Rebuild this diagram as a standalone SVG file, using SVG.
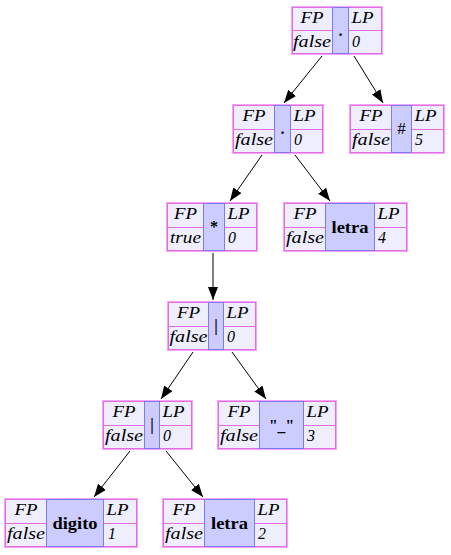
<svg xmlns="http://www.w3.org/2000/svg" width="451" height="555" viewBox="0 0 451 555">
  <defs>
    <marker id="arrow" markerUnits="userSpaceOnUse" markerWidth="14" markerHeight="11" refX="13" refY="5" orient="auto">
      <path d="M0,0 L13,5 L0,10 z" fill="#000"/>
    </marker>
  </defs>
  <style>
    .outer { fill: none; stroke: #f7a3f7; stroke-width: 1; }
    .cell { fill: #eeeeff; stroke: #e36be3; stroke-width: 1; }
    .key { fill: #ccccff; stroke: #7b7bf5; stroke-width: 1; }
    .it { font-family: "Liberation Serif", "Times New Roman", serif; font-style: italic; font-size: 16px; fill: #000; }
    .c { text-anchor: middle; }
    .lb { font-family: "Liberation Serif", "Times New Roman", serif; font-weight: bold; font-size: 16px; fill: #000; text-anchor: middle; }
    .sym { font-family: "Liberation Serif", "Times New Roman", serif; font-size: 17px; fill: #000; text-anchor: middle; }
    .edge { stroke: #000; stroke-width: 1; fill: none; marker-end: url(#arrow); }
  </style>
  <rect width="451" height="555" fill="#fff"/>

  <!-- connectors -->
  <g id="edges">
    <line class="edge" x1="322" y1="56" x2="284" y2="103"/>
    <line class="edge" x1="354" y1="56" x2="383" y2="103"/>
    <line class="edge" x1="262" y1="155" x2="230" y2="201"/>
    <line class="edge" x1="295" y1="155" x2="330" y2="201"/>
    <line class="edge" x1="213" y1="253" x2="213" y2="300"/>
    <line class="edge" x1="193" y1="352" x2="161" y2="399"/>
    <line class="edge" x1="232" y1="352" x2="266" y2="399"/>
    <line class="edge" x1="130" y1="451" x2="94" y2="497"/>
    <line class="edge" x1="166" y1="451" x2="203" y2="497"/>
  </g>

  <!-- root: concatenation -->
  <g id="node-A">
    <rect class="outer" x="291.5" y="6.5" width="91" height="48"/>
    <rect class="cell" x="292.5" y="7.5" width="40" height="23"/>
    <rect class="cell" x="292.5" y="30.5" width="40" height="23"/>
    <rect class="cell" x="348.5" y="7.5" width="33" height="23"/>
    <rect class="cell" x="348.5" y="30.5" width="33" height="23"/>
    <rect class="key" x="332.5" y="7.5" width="16" height="46"/>
    <text class="it c" x="312" y="22.5" textLength="23" lengthAdjust="spacingAndGlyphs">FP</text>
    <text class="it c" x="312" y="46.5" textLength="38" lengthAdjust="spacingAndGlyphs">false</text>
    <text class="lb" x="340.5" y="35.5">.</text>
    <text class="it" x="351.5" y="22.5" textLength="22" lengthAdjust="spacingAndGlyphs">LP</text>
    <text class="it" x="352" y="46.5">0</text>
  </g>

  <g id="node-B">
    <rect class="outer" x="232.5" y="104.5" width="91" height="49"/>
    <rect class="cell" x="233.5" y="105.5" width="41" height="24"/>
    <rect class="cell" x="233.5" y="129.5" width="41" height="23"/>
    <rect class="cell" x="290.5" y="105.5" width="32" height="24"/>
    <rect class="cell" x="290.5" y="129.5" width="32" height="23"/>
    <rect class="key" x="274.5" y="105.5" width="16" height="47"/>
    <text class="it c" x="254" y="121" textLength="23" lengthAdjust="spacingAndGlyphs">FP</text>
    <text class="it c" x="254" y="145" textLength="38" lengthAdjust="spacingAndGlyphs">false</text>
    <text class="lb" x="282.5" y="134">.</text>
    <text class="it" x="293.5" y="121" textLength="22" lengthAdjust="spacingAndGlyphs">LP</text>
    <text class="it" x="294" y="145">0</text>
  </g>

  <g id="node-C">
    <rect class="outer" x="349.5" y="104.5" width="95" height="49"/>
    <rect class="cell" x="350.5" y="105.5" width="41" height="24"/>
    <rect class="cell" x="350.5" y="129.5" width="41" height="23"/>
    <rect class="cell" x="411.5" y="105.5" width="32" height="24"/>
    <rect class="cell" x="411.5" y="129.5" width="32" height="23"/>
    <rect class="key" x="391.5" y="105.5" width="20" height="47"/>
    <text class="it c" x="371" y="121" textLength="23" lengthAdjust="spacingAndGlyphs">FP</text>
    <text class="it c" x="371" y="145" textLength="38" lengthAdjust="spacingAndGlyphs">false</text>
    <text class="sym" x="401.5" y="134">#</text>
    <text class="it" x="414.5" y="121" textLength="22" lengthAdjust="spacingAndGlyphs">LP</text>
    <text class="it" x="415" y="145">5</text>
  </g>

  <g id="node-D">
    <rect class="outer" x="166.5" y="202.5" width="91" height="49"/>
    <rect class="cell" x="167.5" y="203.5" width="36" height="24"/>
    <rect class="cell" x="167.5" y="227.5" width="36" height="23"/>
    <rect class="cell" x="224.5" y="203.5" width="32" height="24"/>
    <rect class="cell" x="224.5" y="227.5" width="32" height="23"/>
    <rect class="key" x="203.5" y="203.5" width="21" height="47"/>
    <text class="it c" x="185.5" y="219" textLength="23" lengthAdjust="spacingAndGlyphs">FP</text>
    <text class="it c" x="185.5" y="243" textLength="31" lengthAdjust="spacingAndGlyphs">true</text>
    <text class="lb" x="214" y="232">*</text>
    <text class="it" x="227.5" y="219" textLength="22" lengthAdjust="spacingAndGlyphs">LP</text>
    <text class="it" x="228" y="243">0</text>
  </g>

  <g id="node-E">
    <rect class="outer" x="283.5" y="202.5" width="124" height="49"/>
    <rect class="cell" x="284.5" y="203.5" width="41" height="24"/>
    <rect class="cell" x="284.5" y="227.5" width="41" height="23"/>
    <rect class="cell" x="374.5" y="203.5" width="32" height="24"/>
    <rect class="cell" x="374.5" y="227.5" width="32" height="23"/>
    <rect class="key" x="325.5" y="203.5" width="49" height="47"/>
    <text class="it c" x="305" y="219" textLength="23" lengthAdjust="spacingAndGlyphs">FP</text>
    <text class="it c" x="305" y="243" textLength="38" lengthAdjust="spacingAndGlyphs">false</text>
    <text class="lb" x="350" y="233" textLength="37" lengthAdjust="spacingAndGlyphs">letra</text>
    <text class="it" x="377.5" y="219" textLength="22" lengthAdjust="spacingAndGlyphs">LP</text>
    <text class="it" x="378" y="243">4</text>
  </g>

  <g id="node-F">
    <rect class="outer" x="167.5" y="301.5" width="89" height="49"/>
    <rect class="cell" x="168.5" y="302.5" width="40" height="24"/>
    <rect class="cell" x="168.5" y="326.5" width="40" height="23"/>
    <rect class="cell" x="223.5" y="302.5" width="32" height="24"/>
    <rect class="cell" x="223.5" y="326.5" width="32" height="23"/>
    <rect class="key" x="208.5" y="302.5" width="15" height="47"/>
    <text class="it c" x="188.5" y="318" textLength="23" lengthAdjust="spacingAndGlyphs">FP</text>
    <text class="it c" x="188.5" y="342" textLength="38" lengthAdjust="spacingAndGlyphs">false</text>
    <text class="lb" x="216" y="331">|</text>
    <text class="it" x="226.5" y="318" textLength="22" lengthAdjust="spacingAndGlyphs">LP</text>
    <text class="it" x="227" y="342">0</text>
  </g>

  <g id="node-G">
    <rect class="outer" x="102.5" y="400.5" width="90" height="49"/>
    <rect class="cell" x="103.5" y="401.5" width="41" height="24"/>
    <rect class="cell" x="103.5" y="425.5" width="41" height="23"/>
    <rect class="cell" x="159.5" y="401.5" width="32" height="24"/>
    <rect class="cell" x="159.5" y="425.5" width="32" height="23"/>
    <rect class="key" x="144.5" y="401.5" width="15" height="47"/>
    <text class="it c" x="124" y="417" textLength="23" lengthAdjust="spacingAndGlyphs">FP</text>
    <text class="it c" x="124" y="441" textLength="38" lengthAdjust="spacingAndGlyphs">false</text>
    <text class="lb" x="152" y="430">|</text>
    <text class="it" x="162.5" y="417" textLength="22" lengthAdjust="spacingAndGlyphs">LP</text>
    <text class="it" x="163" y="441">0</text>
  </g>

  <g id="node-H">
    <rect class="outer" x="217.5" y="400.5" width="119" height="49"/>
    <rect class="cell" x="218.5" y="401.5" width="41" height="24"/>
    <rect class="cell" x="218.5" y="425.5" width="41" height="23"/>
    <rect class="cell" x="303.5" y="401.5" width="32" height="24"/>
    <rect class="cell" x="303.5" y="425.5" width="32" height="23"/>
    <rect class="key" x="259.5" y="401.5" width="44" height="47"/>
    <text class="it c" x="239" y="417" textLength="23" lengthAdjust="spacingAndGlyphs">FP</text>
    <text class="it c" x="239" y="441" textLength="38" lengthAdjust="spacingAndGlyphs">false</text>
    <text class="lb" x="281.5" y="431" textLength="25" lengthAdjust="spacingAndGlyphs">"_"</text>
    <text class="it" x="306.5" y="417" textLength="22" lengthAdjust="spacingAndGlyphs">LP</text>
    <text class="it" x="307" y="441">3</text>
  </g>

  <g id="node-I">
    <rect class="outer" x="4.5" y="498.5" width="133" height="49"/>
    <rect class="cell" x="5.5" y="499.5" width="41" height="24"/>
    <rect class="cell" x="5.5" y="523.5" width="41" height="23"/>
    <rect class="cell" x="103.5" y="499.5" width="33" height="24"/>
    <rect class="cell" x="103.5" y="523.5" width="33" height="23"/>
    <rect class="key" x="46.5" y="499.5" width="57" height="47"/>
    <text class="it c" x="26" y="515" textLength="23" lengthAdjust="spacingAndGlyphs">FP</text>
    <text class="it c" x="26" y="539" textLength="38" lengthAdjust="spacingAndGlyphs">false</text>
    <text class="lb" x="75" y="529" textLength="45" lengthAdjust="spacingAndGlyphs">digito</text>
    <text class="it" x="106.5" y="515" textLength="22" lengthAdjust="spacingAndGlyphs">LP</text>
    <text class="it" x="108" y="539">1</text>
  </g>

  <g id="node-J">
    <rect class="outer" x="162.5" y="498.5" width="125" height="49"/>
    <rect class="cell" x="163.5" y="499.5" width="41" height="24"/>
    <rect class="cell" x="163.5" y="523.5" width="41" height="23"/>
    <rect class="cell" x="254.5" y="499.5" width="32" height="24"/>
    <rect class="cell" x="254.5" y="523.5" width="32" height="23"/>
    <rect class="key" x="204.5" y="499.5" width="50" height="47"/>
    <text class="it c" x="184" y="515" textLength="23" lengthAdjust="spacingAndGlyphs">FP</text>
    <text class="it c" x="184" y="539" textLength="38" lengthAdjust="spacingAndGlyphs">false</text>
    <text class="lb" x="229.5" y="529" textLength="37" lengthAdjust="spacingAndGlyphs">letra</text>
    <text class="it" x="257.5" y="515" textLength="22" lengthAdjust="spacingAndGlyphs">LP</text>
    <text class="it" x="258" y="539">2</text>
  </g>
</svg>
